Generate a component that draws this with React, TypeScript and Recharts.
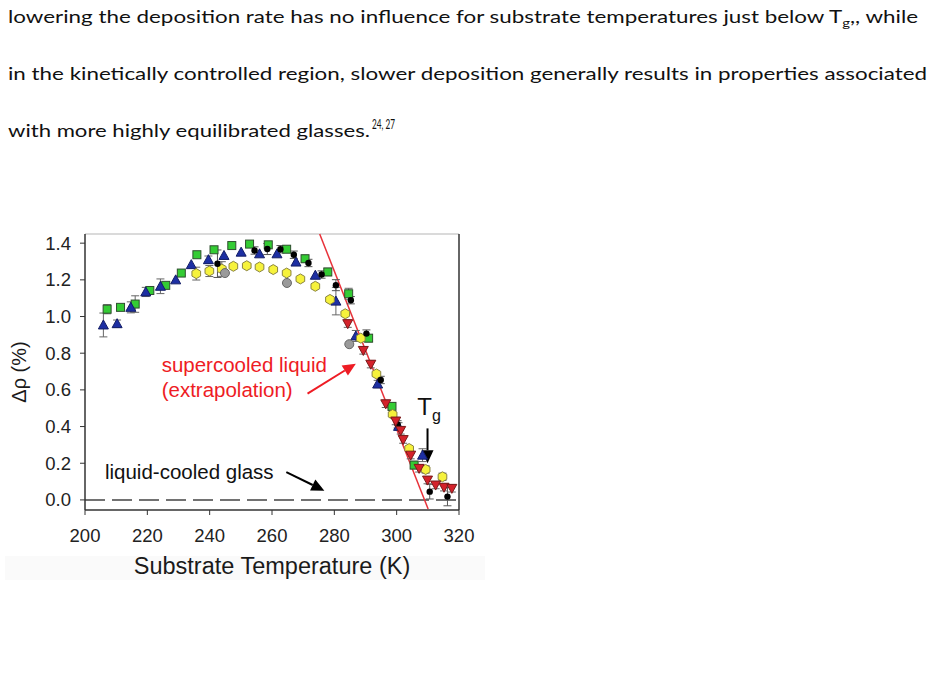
import {
  ErrorBar,
  ReferenceDot,
  ReferenceLine,
  Scatter,
  ScatterChart,
  XAxis,
  YAxis,
} from "recharts";

type Pt = { t: number; v: number; err?: number };

const X_TICKS = [200, 220, 240, 260, 280, 300, 320];
const Y_TICKS = [0, 0.2, 0.4, 0.6, 0.8, 1.0, 1.2, 1.4];
const X_DOMAIN: [number, number] = [200, 320];
const Y_DOMAIN: [number, number] = [-0.055, 1.45];

// Δρ (%) vs substrate temperature, one array per deposition series
const greenSquares: Pt[] = [
  { t: 207.1, v: 1.04, err: 0.025 }, { t: 211.4, v: 1.05 }, { t: 216.1, v: 1.068, err: 0.045 },
  { t: 220.8, v: 1.142 }, { t: 225.9, v: 1.17 }, { t: 230.9, v: 1.237, err: 0.015 },
  { t: 235.9, v: 1.337 }, { t: 241.4, v: 1.364 }, { t: 247.1, v: 1.387 },
  { t: 252.8, v: 1.395 }, { t: 258.8, v: 1.391 }, { t: 264.7, v: 1.367, err: 0.015 },
  { t: 270.6, v: 1.315, err: 0.02 }, { t: 277.9, v: 1.243, err: 0.02 }, { t: 284.6, v: 1.124, err: 0.03 },
  { t: 291.0, v: 0.882, err: 0.02 }, { t: 298.5, v: 0.51, err: 0.02 }, { t: 305.6, v: 0.19, err: 0.02 },
];

const blueTriangles: Pt[] = [
  { t: 205.9, v: 0.954, err: 0.065 }, { t: 210.3, v: 0.961, err: 0.02 }, { t: 214.7, v: 1.05, err: 0.03 },
  { t: 219.5, v: 1.134, err: 0.025 }, { t: 224.2, v: 1.165, err: 0.04 }, { t: 229.1, v: 1.2 },
  { t: 234.1, v: 1.283 }, { t: 239.6, v: 1.31, err: 0.02 }, { t: 244.6, v: 1.333 },
  { t: 250.1, v: 1.351 }, { t: 256.0, v: 1.342 }, { t: 261.6, v: 1.342 },
  { t: 267.7, v: 1.297 }, { t: 273.9, v: 1.225 }, { t: 280.5, v: 1.084, err: 0.075 },
  { t: 286.9, v: 0.894, err: 0.03 }, { t: 293.9, v: 0.632, err: 0.02 }, { t: 300.6, v: 0.401, err: 0.02 },
  { t: 308.3, v: 0.244, err: 0.035 },
];

const yellowHexagons: Pt[] = [
  { t: 235.7, v: 1.234, err: 0.035 }, { t: 239.9, v: 1.248, err: 0.03 }, { t: 243.9, v: 1.259, err: 0.04 },
  { t: 247.6, v: 1.274 }, { t: 251.9, v: 1.277 }, { t: 256.0, v: 1.27 },
  { t: 260.4, v: 1.256 }, { t: 264.7, v: 1.237 }, { t: 269.1, v: 1.205 },
  { t: 273.9, v: 1.165 }, { t: 278.6, v: 1.093 }, { t: 283.5, v: 1.015 },
  { t: 288.5, v: 0.882 }, { t: 293.5, v: 0.687 }, { t: 298.7, v: 0.466 },
  { t: 304.0, v: 0.28 }, { t: 309.3, v: 0.166, err: 0.02 }, { t: 314.7, v: 0.126, err: 0.02 },
];

const blackDots: Pt[] = [
  { t: 242.5, v: 1.288, err: 0.075 }, { t: 254.4, v: 1.36, err: 0.02 }, { t: 258.5, v: 1.368, err: 0.03 },
  { t: 262.7, v: 1.367, err: 0.02 }, { t: 267.0, v: 1.337, err: 0.02 }, { t: 271.7, v: 1.292, err: 0.02 },
  { t: 275.9, v: 1.229, err: 0.02 }, { t: 280.5, v: 1.171, err: 0.03 }, { t: 285.3, v: 1.089, err: 0.02 },
  { t: 290.3, v: 0.907, err: 0.02 }, { t: 294.9, v: 0.654, err: 0.02 }, { t: 300.3, v: 0.412, err: 0.02 },
  { t: 310.6, v: 0.045, err: 0.04 }, { t: 316.3, v: 0.018, err: 0.05 },
];

const grayCircles: Pt[] = [
  { t: 244.9, v: 1.237 }, { t: 264.8, v: 1.183 }, { t: 284.8, v: 0.849 },
];

const redTriangles: Pt[] = [
  { t: 284.3, v: 0.961, err: 0.02 }, { t: 289.3, v: 0.815, err: 0.02 }, { t: 291.7, v: 0.74, err: 0.02 },
  { t: 296.5, v: 0.524, err: 0.02 }, { t: 299.7, v: 0.43, err: 0.02 }, { t: 301.3, v: 0.379, err: 0.02 },
  { t: 302.1, v: 0.329, err: 0.02 }, { t: 304.5, v: 0.244, err: 0.02 }, { t: 307.2, v: 0.172, err: 0.02 },
  { t: 309.9, v: 0.108, err: 0.02 }, { t: 312.5, v: 0.081, err: 0.02 }, { t: 315.2, v: 0.069, err: 0.02 },
  { t: 317.7, v: 0.063, err: 0.02 },
];

// extrapolated supercooled-liquid line
const extrapolationLine = [
  { t: 275.3, v: 1.45 },
  { t: 310.1, v: -0.05 },
];

const CHART_FONT = "'Liberation Sans', Arial, sans-serif";
const TEXT_FONT = "Lato, 'Open Sans', sans-serif";

type ShapeProps = { cx?: number; cy?: number };

const GreenSquare = ({ cx = 0, cy = 0 }: ShapeProps) => (
  <rect x={cx - 4} y={cy - 4} width={8} height={8} fill="#34cc34" stroke="#2f4f2f" strokeWidth={1} />
);

const BlueTriangle = ({ cx = 0, cy = 0 }: ShapeProps) => (
  <polygon
    points={`${cx},${cy - 5} ${cx + 5},${cy + 4} ${cx - 5},${cy + 4}`}
    fill="#1d2fa3"
    stroke="#131d66"
    strokeWidth={1}
  />
);

const RedTriangle = ({ cx = 0, cy = 0 }: ShapeProps) => (
  <polygon
    points={`${cx - 5},${cy - 4} ${cx + 5},${cy - 4} ${cx},${cy + 5}`}
    fill="#d4222b"
    stroke="#7a1a1a"
    strokeWidth={1}
  />
);

const YellowHexagon = ({ cx = 0, cy = 0 }: ShapeProps) => {
  const pts = [0, 1, 2, 3, 4, 5]
    .map((i) => {
      const a = (Math.PI / 3) * i + Math.PI / 6;
      return `${cx + 5 * Math.cos(a)},${cy + 5 * Math.sin(a)}`;
    })
    .join(" ");
  return <polygon points={pts} fill="#f6f23c" stroke="#8a8440" strokeWidth={1} />;
};

const BlackDot = ({ cx = 0, cy = 0 }: ShapeProps) => <circle cx={cx} cy={cy} r={3.2} fill="#000" />;

const GrayCircle = ({ cx = 0, cy = 0 }: ShapeProps) => (
  <circle cx={cx} cy={cy} r={4.5} fill="#9a9a9a" stroke="#666" strokeWidth={1} />
);

type SegProps = { x1?: number; y1?: number; x2?: number; y2?: number };

function arrowShape(color: string) {
  return ({ x1 = 0, y1 = 0, x2 = 0, y2 = 0 }: SegProps) => {
    const dx = x2 - x1;
    const dy = y2 - y1;
    const len = Math.hypot(dx, dy) || 1;
    const ux = dx / len;
    const uy = dy / len;
    const head = 13;
    const half = 6;
    const bx = x2 - ux * head;
    const by = y2 - uy * head;
    const pts = `${x2},${y2} ${bx - uy * half},${by + ux * half} ${bx + uy * half},${by - ux * half}`;
    return (
      <g>
        <line x1={x1} y1={y1} x2={bx} y2={by} stroke={color} strokeWidth={2} />
        <polygon points={pts} fill={color} />
      </g>
    );
  };
}

function textShape(lines: string[], color: string, size: number, gap: number) {
  return ({ cx = 0, cy = 0 }: ShapeProps) => (
    <text x={cx} y={cy} fill={color} fontSize={size} fontFamily={CHART_FONT}>
      {lines.map((l, i) => (
        <tspan key={l} x={cx} dy={i === 0 ? 0 : gap}>
          {l}
        </tspan>
      ))}
    </text>
  );
}

const TgLabel = ({ cx = 0, cy = 0 }: ShapeProps) => (
  <text x={cx} y={cy} fill="#111" fontFamily={CHART_FONT} fontSize={24}>
    T
    <tspan fontSize={16} dy={6}>
      g
    </tspan>
  </text>
);

function YTitle(props: any) {
  const vb = props.viewBox ?? {};
  const x = vb.x + 11;
  const y = vb.y + vb.height / 2;
  return (
    <text x={x} y={y} transform={`rotate(-90, ${x}, ${y})`} textAnchor="middle" fontSize={20} fill="#1a1a1a" fontFamily={CHART_FONT}>
      Δρ (%)
    </text>
  );
}

function XTitle(props: any) {
  const vb = props.viewBox ?? {};
  return (
    <text x={vb.x + vb.width / 2} y={vb.y + 64} textAnchor="middle" fontSize={23.5} fill="#1a1a1a" fontFamily={CHART_FONT}>
      Substrate Temperature (K)
    </text>
  );
}

const tickStyle = { fontSize: 18.5, fill: "#222", fontFamily: CHART_FONT };

export default function App() {
  return (
    <div style={{ position: "absolute", left: 0, top: 0, width: 934, height: 678, background: "#fff", overflow: "hidden" }}>
      <svg width={934} height={160} style={{ position: "absolute", left: 0, top: 0 }}>
        <g fontFamily={TEXT_FONT} fontSize={18} fill="#111">
          <text x={8} y={23} textLength={910} lengthAdjust="spacingAndGlyphs">
            lowering the deposition rate has no influence for substrate temperatures just below T
            <tspan fontSize={12} dy={4}>g</tspan>
            <tspan dy={-4}>,, while</tspan>
          </text>
          <text x={8} y={80} textLength={919} lengthAdjust="spacingAndGlyphs">
            in the kinetically controlled region, slower deposition generally results in properties associated
          </text>
          <text x={8} y={137} textLength={362} lengthAdjust="spacingAndGlyphs">
            with more highly equilibrated glasses.
          </text>
          <text x={372} y={129} fontSize={13} textLength={23} lengthAdjust="spacingAndGlyphs">
            24, 27
          </text>
        </g>
      </svg>

      <div style={{ position: "absolute", left: 5, top: 556, width: 480, height: 24, background: "#fafafa" }} />

      <div style={{ position: "absolute", left: 0, top: 200 }}>
        <ScatterChart width={500} height={400} margin={{ top: 34, right: 41, bottom: 30, left: 15 }}>
          <XAxis
            type="number"
            dataKey="t"
            domain={X_DOMAIN}
            ticks={X_TICKS}
            allowDataOverflow
            height={60}
            tick={tickStyle}
            tickSize={5}
            tickMargin={14}
            axisLine={{ stroke: "#333", strokeWidth: 1.5 }}
            tickLine={{ stroke: "#333" }}
            label={{ content: XTitle }}
          />
          <YAxis
            type="number"
            dataKey="v"
            domain={Y_DOMAIN}
            ticks={Y_TICKS}
            allowDataOverflow
            width={70}
            tick={tickStyle}
            tickFormatter={(v: number) => v.toFixed(1)}
            tickSize={5}
            tickMargin={9}
            axisLine={{ stroke: "#333", strokeWidth: 1.5 }}
            tickLine={{ stroke: "#333" }}
            label={{ content: YTitle }}
          />

          {/* frame: light top edge, dark right edge */}
          <ReferenceLine y={Y_DOMAIN[1]} stroke="#b5b5b5" strokeWidth={1} />
          <ReferenceLine x={X_DOMAIN[1]} stroke="#333" strokeWidth={1.5} />

          <ReferenceLine y={0} stroke="#444" strokeWidth={1.5} strokeDasharray="20 7" />
          <ReferenceLine
            segment={extrapolationLine.map((p) => ({ x: p.t, y: p.v }))}
            stroke="#e8323a"
            strokeWidth={1.5}
          />

          <Scatter data={greenSquares} dataKey="v" shape={GreenSquare} isAnimationActive={false}>
            <ErrorBar dataKey="err" direction="y" width={4} stroke="#666" strokeWidth={1} />
          </Scatter>
          <Scatter data={blueTriangles} dataKey="v" shape={BlueTriangle} isAnimationActive={false}>
            <ErrorBar dataKey="err" direction="y" width={4} stroke="#666" strokeWidth={1} />
          </Scatter>
          <Scatter data={yellowHexagons} dataKey="v" shape={YellowHexagon} isAnimationActive={false}>
            <ErrorBar dataKey="err" direction="y" width={4} stroke="#666" strokeWidth={1} />
          </Scatter>
          <Scatter data={grayCircles} dataKey="v" shape={GrayCircle} isAnimationActive={false} />
          <Scatter data={blackDots} dataKey="v" shape={BlackDot} isAnimationActive={false}>
            <ErrorBar dataKey="err" direction="y" width={4} stroke="#555" strokeWidth={1} />
          </Scatter>
          <Scatter data={redTriangles} dataKey="v" shape={RedTriangle} isAnimationActive={false}>
            <ErrorBar dataKey="err" direction="y" width={4} stroke="#666" strokeWidth={1} />
          </Scatter>

          {/* annotations */}
          <ReferenceDot
            x={224.6}
            y={0.7}
            r={0}
            ifOverflow="visible"
            shape={textShape(["supercooled liquid", "(extrapolation)"], "#ee1c24", 20.5, 25)}
          />
          <ReferenceLine segment={[{ x: 271.4, y: 0.58 }, { x: 286.9, y: 0.743 }]} shape={arrowShape("#ee1c24")} />
          <ReferenceDot x={306.6} y={0.461} r={0} ifOverflow="visible" shape={TgLabel} />
          <ReferenceLine segment={[{ x: 309.9, y: 0.39 }, { x: 309.9, y: 0.2 }]} shape={arrowShape("#000")} />
          <ReferenceDot
            x={206.4}
            y={0.114}
            r={0}
            ifOverflow="visible"
            shape={textShape(["liquid-cooled glass"], "#111", 20.5, 0)}
          />
          <ReferenceLine segment={[{ x: 264.6, y: 0.152 }, { x: 276.8, y: 0.05 }]} shape={arrowShape("#000")} />
        </ScatterChart>
      </div>
    </div>
  );
}
